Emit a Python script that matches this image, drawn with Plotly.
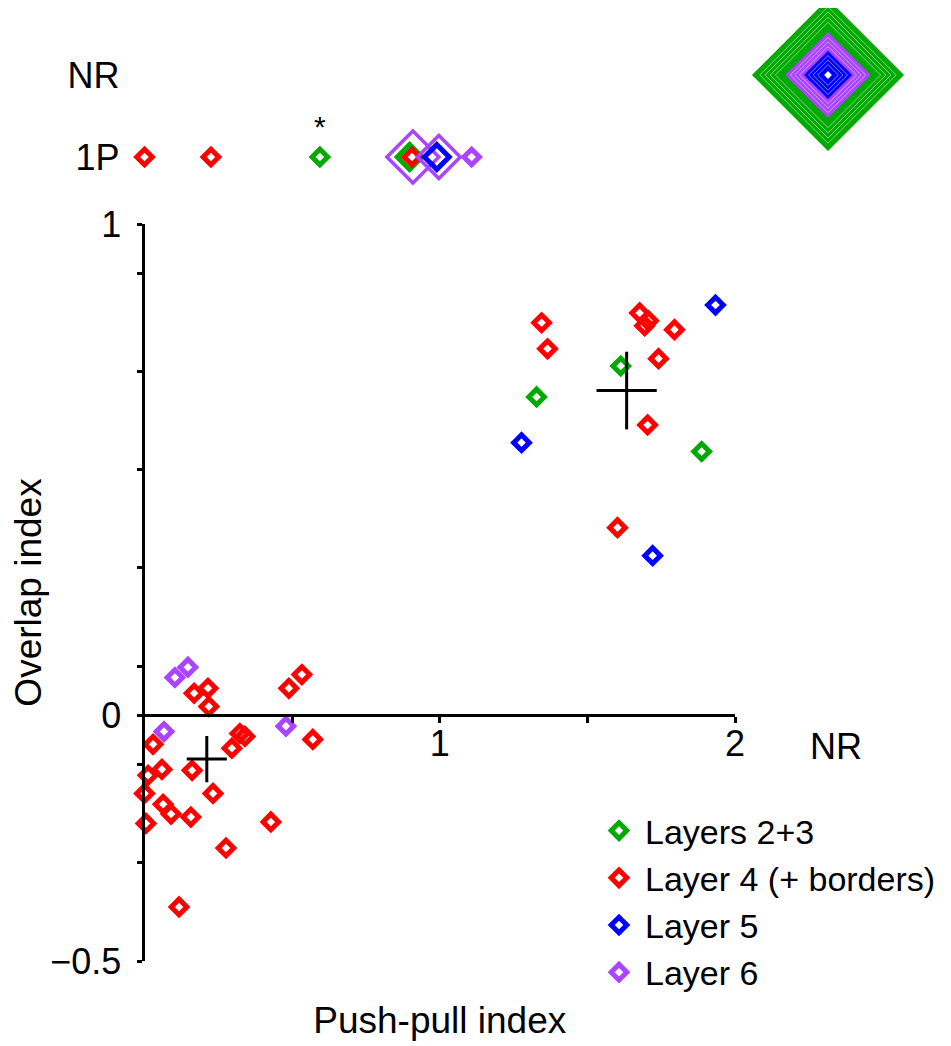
import plotly.graph_objects as go

# ---------------- data ----------------
layer_names = ["Layers 2+3", "Layer 4 (+ borders)", "Layer 5", "Layer 6"]
layer_colors = ["#00aa00", "#ff0000", "#0000ff", "#aa44ff"]

# Push-pull index (x) and overlap index (y) per layer
l23_x = [1.613, 1.328, 1.887]
l23_y = [0.711, 0.648, 0.537]

l4_x = [0.168, 0.215, 0.218, 0.489, 0.533, 0.570, 0.029, 0.323, 0.340, 0.296,
        0.012, 0.059, 0.161, 0.000, 0.232, 0.063, 0.090, 0.157, 0.005, 0.428,
        0.276, 0.117,
        1.345, 1.365, 1.677, 1.707, 1.694, 1.795, 1.741, 1.704, 1.602]
l4_y = [0.045, 0.055, 0.018, 0.055, 0.083, -0.049, -0.059, -0.037, -0.043, -0.067,
        -0.122, -0.110, -0.112, -0.159, -0.159, -0.181, -0.201, -0.207, -0.220, -0.217,
        -0.270, -0.390,
        0.799, 0.746, 0.819, 0.803, 0.793, 0.785, 0.726, 0.591, 0.382]

l5_x = [1.934, 1.277, 1.721]
l5_y = [0.835, 0.555, 0.325]

l6_x = [0.103, 0.147, 0.066, 0.479]
l6_y = [0.077, 0.098, -0.033, -0.022]

# group means (crosses) with half-lengths of the arms
mean_x = [0.211, 1.633]
mean_y = [-0.089, 0.661]
mean_ex = [0.068, 0.102]
mean_ey = [0.047, 0.079]

# top row: non-responsive (NR) and one-phase (1P) cells, plotted by push-pull index
onep_layer = [1, 1, 0, 3, 0, 1, 3, 2, 3]
onep_x = [0.0, 0.225, 0.594, 0.909, 0.898, 0.906, 0.997, 0.990, 1.108]
onep_n = [1, 1, 1, 5, 2, 1, 4, 2, 1]   # number of overlapping cells
star_x = 0.594

row_ticks = [0, 1]
row_labels = ["1P", "NR"]

y_tickvals = [-0.5, -0.3, -0.1, 0, 0.1, 0.3, 0.5, 0.7, 0.9, 1]
y_ticktext = ["\u22120.5", "", "", "0", "", "", "", "", "", "1"]
x_tickvals = [0.5, 1, 1.5, 2]
x_ticktext = ["", "1", "", "2"]

# size-key icon (nested diamonds, largest to smallest)
icon_fill_colors = ["#00aa00", "#aa44ff", "#0000ff", "#ffffff"]
icon_fill_sizes = [117, 66, 37, 6]
icon_line_sizes = [105, 97, 89, 81, 58, 51, 44, 30, 23, 16]

# ---------------- figure ----------------
OFF = 8                      # default page margin of the html body
W, H = 951 - OFF, 1046 - OFF
FONT = "Liberation Sans, Arial, Helvetica, sans-serif"
BASE = 12
LW = 5


def sx(p):
    return (p - OFF) / W


def sy(p):
    return 1 - (p - OFF) / H


fig = go.Figure()

xs = [l23_x, l4_x, l5_x, l6_x]
ys = [l23_y, l4_y, l5_y, l6_y]
for name, col, x, y in zip(layer_names, layer_colors, xs, ys):
    fig.add_trace(go.Scatter(
        x=x, y=y, mode="markers", name=name, cliponaxis=False,
        marker=dict(symbol="diamond-open", size=BASE, color=col,
                    line=dict(width=LW, color=col)),
        xaxis="x", yaxis="y"))

# crosses (means) drawn on overlaying axis x2
fig.add_trace(go.Scatter(
    x=mean_x, y=mean_y, mode="markers", showlegend=False, cliponaxis=False,
    marker=dict(size=1, color="rgba(0,0,0,0)"),
    error_x=dict(type="data", array=mean_ex, width=0, thickness=3, color="black"),
    error_y=dict(type="data", array=mean_ey, width=0, thickness=3, color="black"),
    xaxis="x2", yaxis="y", hoverinfo="skip"))

# top row 1P
for i in range(len(onep_x)):
    n = onep_n[i]
    col = layer_colors[onep_layer[i]]
    size = BASE + 7 * (n - 1)
    lw = LW if n == 1 else (3.5 if onep_layer[i] == 3 else 5)
    fig.add_trace(go.Scatter(
        x=[onep_x[i]], y=[0], mode="markers", showlegend=False, cliponaxis=False,
        marker=dict(symbol="diamond-open", size=size, color=col,
                    line=dict(width=lw, color=col)),
        xaxis="x", yaxis="y2"))

# star above the 1P green point
fig.add_trace(go.Scatter(
    x=[star_x], y=[0.33], mode="text", text=["*"], showlegend=False,
    textfont=dict(size=30, color="black", family=FONT), cliponaxis=False,
    xaxis="x", yaxis="y2", hoverinfo="skip"))

# size-key icon
for c, s in zip(icon_fill_colors, icon_fill_sizes):
    fig.add_trace(go.Scatter(
        x=[0], y=[0], mode="markers", showlegend=False, cliponaxis=False,
        marker=dict(symbol="diamond", size=s, color=c, line=dict(width=0)),
        xaxis="x3", yaxis="y3", hoverinfo="skip"))
for s in icon_line_sizes:
    fig.add_trace(go.Scatter(
        x=[0], y=[0], mode="markers", showlegend=False, cliponaxis=False,
        marker=dict(symbol="diamond-open", size=s, color="rgba(255,255,255,0.5)",
                    line=dict(width=1, color="rgba(255,255,255,0.5)")),
        xaxis="x3", yaxis="y3", hoverinfo="skip"))

xdom = [sx(144.5), sx(735)]
fig.update_layout(
    width=W, height=H,
    margin=dict(l=0, r=0, t=0, b=0, autoexpand=False),
    paper_bgcolor="white", plot_bgcolor="white",
    font=dict(family=FONT, size=35, color="black"),
    showlegend=True,
    legend=dict(x=sx(593), y=sy(802), xanchor="left", yanchor="top",
                font=dict(size=34, family=FONT), bgcolor="rgba(0,0,0,0)",
                itemwidth=42, tracegroupgap=0),
    xaxis=dict(domain=xdom, range=[0, 2], anchor="y", showline=False,
               showticklabels=False, ticks="", showgrid=False, zeroline=False,
               automargin=False,
               title=dict(text="Push-pull index", font=dict(size=37), standoff=46)),
    xaxis2=dict(overlaying="x", range=[0, 2], anchor="free",
                position=sy(715), side="bottom", automargin=False,
                showline=True, linewidth=3, linecolor="black",
                ticks="outside", ticklen=6, tickwidth=3, tickcolor="black",
                tickvals=x_tickvals, ticktext=x_ticktext, ticklabelstandoff=-10,
                tickfont=dict(size=36), showgrid=False, zeroline=False),
    yaxis=dict(domain=[sy(961), sy(224)], range=[-0.5, 1], anchor="x",
               showline=True, linewidth=3, linecolor="black", automargin=False,
               ticks="outside", ticklen=5, tickwidth=3, tickcolor="black",
               tickvals=y_tickvals, ticktext=y_ticktext, tickfont=dict(size=36),
               ticklabelstandoff=8,
               showgrid=False, zeroline=False,
               title=dict(text="Overlap index", font=dict(size=37), standoff=12)),
    yaxis2=dict(domain=[sy(173.4), sy(58.6)], range=[-0.2, 1.2], anchor="x",
                showline=False, ticks="", tickvals=row_ticks, ticktext=row_labels,
                tickfont=dict(size=36), ticklabelstandoff=24, automargin=False,
                showgrid=False, zeroline=False),
    xaxis3=dict(domain=[sx(763), sx(893)], range=[-1, 1], anchor="y3", visible=False),
    yaxis3=dict(domain=[sy(140), sy(10)], range=[-1, 1], anchor="x3", visible=False),
    annotations=[
        dict(text="NR", x=sx(836), y=sy(746), xref="paper", yref="paper",
             showarrow=False, font=dict(size=36), xanchor="center", yanchor="middle"),
    ],
)

fig.write_html("out.html")
